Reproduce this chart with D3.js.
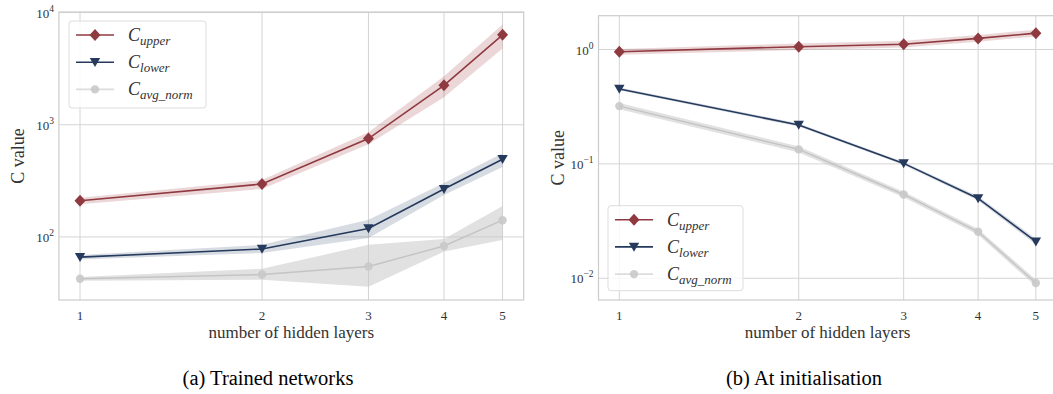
<!DOCTYPE html>
<html><head><meta charset="utf-8">
<script src="https://cdn.jsdelivr.net/npm/d3@7"></script>
<style>body{margin:0;background:#fff}svg{display:block}text{fill:#333}</style>
</head><body><svg id="c" width="1053" height="394"></svg>
<script>
// ---------- data ----------
const layers = [1, 2, 3, 4, 5];
const xTicks = [1, 2, 3, 4, 5];
const seriesNames = ["upper", "lower", "avg_norm"];

// (a) trained networks
const trainedUpper = [210, 296, 753, 2244, 6330];
const trainedUpperLo = [196, 268, 671, 1756, 4790];
const trainedUpperHi = [224, 321, 858, 2700, 7820];
const trainedLower = [66, 78, 119, 267, 493];
const trainedLowerLo = [63, 72, 98, 236, 420];
const trainedLowerHi = [69, 85, 142, 302, 558];
const trainedAvg = [42.4, 46.2, 54.5, 83, 141];
const trainedAvgLo = [40.6, 41.5, 36, 74, 94];
const trainedAvgHi = [44, 52, 85, 96, 189];
const trainedYTicks = [2, 3, 4];

// (b) at initialisation
const initUpper = [0.956, 1.058, 1.11, 1.25, 1.39];
const initUpperLo = [0.90, 0.99, 1.04, 1.17, 1.30];
const initUpperHi = [1.01, 1.13, 1.19, 1.34, 1.49];
const initLower = [0.451, 0.219, 0.101, 0.0499, 0.0209];
const initLowerLo = [0.44, 0.212, 0.098, 0.0478, 0.0197];
const initLowerHi = [0.465, 0.226, 0.104, 0.052, 0.0222];
const initAvg = [0.32, 0.134, 0.054, 0.0255, 0.0091];
const initAvgLo = [0.30, 0.126, 0.051, 0.024, 0.0085];
const initAvgHi = [0.34, 0.142, 0.057, 0.027, 0.0097];
const initYTicks = [-2, -1, 0];

const captions = ["(a) Trained networks", "(b) At initialisation"];
const xLabel = "number of hidden layers";
const yLabel = "C value";

// ---------- styles ----------
const FONT = '"Liberation Serif","Tinos","Times New Roman","Nimbus Roman","Nimbus Roman No9 L","FreeSerif","DejaVu Serif","Noto Serif",serif';
const colors = {upper: "#8f3a40", lower: "#253a5c", avg_norm: "#c4c4c4"};
const bandOpacity = {upper: 0.22, lower: 0.22, avg_norm: 0.55};
const bandColor = {upper: "#a8474e", lower: "#4a5f7f", avg_norm: "#c8c8c8"};
const gridColor = "#d4d4d4";

const svg = d3.select("#c").attr("font-family", FONT);

const panels = [
  {left: 58.9, right: 523.7, top: 12, bottom: 300, ydom: [27.4, Math.pow(10, 4.005)],
   yTicks: trainedYTicks, series: [
     {k: "upper", v: trainedUpper, lo: trainedUpperLo, hi: trainedUpperHi},
     {k: "lower", v: trainedLower, lo: trainedLowerLo, hi: trainedLowerHi},
     {k: "avg_norm", v: trainedAvg, lo: trainedAvgLo, hi: trainedAvgHi}],
   legend: {x: 69, y: 21, w: 137, h: 87}, caption: captions[0], capX: 268},
  {left: 598.5, right: 1056.7, top: 15.7, bottom: 300, ydom: [Math.pow(10, -2.19), Math.pow(10, 0.2955)],
   yTicks: initYTicks, series: [
     {k: "upper", v: initUpper, lo: initUpperLo, hi: initUpperHi},
     {k: "lower", v: initLower, lo: initLowerLo, hi: initLowerHi},
     {k: "avg_norm", v: initAvg, lo: initAvgLo, hi: initAvgHi}],
   legend: {x: 608, y: 205.7, w: 135, h: 85}, caption: captions[1], capX: 804}
];

const lo2 = Math.log2(5) * 0.05;
const xdom = [Math.pow(2, -lo2), 5 * Math.pow(2, lo2)];

function txt(sel) { return sel.append("text").attr("font-family", FONT); }

function marker(g, k, x, y) {
  const c = colors[k];
  if (k === "upper") {
    g.append("path").attr("d", `M${x},${y - 6}L${x + 5.5},${y}L${x},${y + 6}L${x - 5.5},${y}Z`).attr("fill", c);
  } else if (k === "lower") {
    g.append("path").attr("d", `M${x - 5.2},${y - 4.2}L${x + 5.2},${y - 4.2}L${x},${y + 4.8}Z`).attr("fill", c);
  } else {
    g.append("circle").attr("cx", x).attr("cy", y).attr("r", 4.2).attr("fill", "#c9c9c9").attr("opacity", 0.9);
  }
}

panels.forEach(p => {
  const x = d3.scaleLog().base(2).domain(xdom).range([p.left, p.right]);
  const y = d3.scaleLog().domain(p.ydom).range([p.bottom, p.top]);
  const g = svg.append("g");
  const clipId = "clip" + Math.round(p.left);
  svg.append("clipPath").attr("id", clipId).append("rect")
    .attr("x", p.left).attr("y", p.top).attr("width", p.right - p.left).attr("height", p.bottom - p.top);

  // grid
  const grid = g.append("g").attr("clip-path", `url(#${clipId})`);
  xTicks.forEach(t => grid.append("line").attr("x1", x(t)).attr("x2", x(t)).attr("y1", p.top).attr("y2", p.bottom)
    .attr("stroke", gridColor).attr("stroke-width", 1));
  p.yTicks.forEach(e => grid.append("line").attr("x1", p.left).attr("x2", p.right).attr("y1", y(Math.pow(10, e))).attr("y2", y(Math.pow(10, e)))
    .attr("stroke", gridColor).attr("stroke-width", 1));

  // frame
  g.append("rect").attr("x", p.left).attr("y", p.top).attr("width", p.right - p.left).attr("height", p.bottom - p.top)
    .attr("fill", "none").attr("stroke", "#cccccc").attr("stroke-width", 1.2);

  // x tick labels
  xTicks.forEach(t => txt(g).attr("x", x(t)).attr("y", p.bottom + 20).attr("text-anchor", "middle")
    .attr("font-size", 13).text(t));
  // y tick labels
  p.yTicks.forEach(e => {
    const t = txt(g).attr("x", p.left - 5).attr("y", y(Math.pow(10, e)) + 5).attr("text-anchor", "end").attr("font-size", 13);
    t.append("tspan").text("10");
    t.append("tspan").attr("dy", -6).attr("font-size", 9.5).text(e < 0 ? "\u2212" + (-e) : e);
  });

  // axis labels
  txt(g).attr("x", (p.left + p.right) / 2).attr("y", p.bottom + 38).attr("text-anchor", "middle")
    .attr("font-size", 17).text(xLabel);
  txt(g).attr("transform", `translate(${p.left - 35},${(p.top + p.bottom) / 2}) rotate(-90)`)
    .attr("text-anchor", "middle").attr("font-size", 18).text(yLabel);

  // series
  const data = g.append("g").attr("clip-path", `url(#${clipId})`);
  p.series.slice().reverse().forEach(s => {
    const pts = layers.map((l, i) => ({l, v: s.v[i], lo: s.lo[i], hi: s.hi[i]}));
    data.append("path").datum(pts)
      .attr("d", d3.area().x(d => x(d.l)).y0(d => y(d.lo)).y1(d => y(d.hi)))
      .attr("fill", bandColor[s.k]).attr("fill-opacity", bandOpacity[s.k]);
    data.append("path").datum(pts)
      .attr("d", d3.line().x(d => x(d.l)).y(d => y(d.v)))
      .attr("fill", "none").attr("stroke", colors[s.k]).attr("stroke-width", s.k === "avg_norm" ? 1.4 : 1.6);
    pts.forEach(d => marker(data, s.k, x(d.l), y(d.v)));
  });

  // legend
  const L = p.legend;
  g.append("rect").attr("x", L.x).attr("y", L.y).attr("width", L.w).attr("height", L.h).attr("rx", 3)
    .attr("fill", "#fff").attr("fill-opacity", 0.8).attr("stroke", "#dddddd").attr("stroke-width", 1);
  seriesNames.forEach((k, i) => {
    const cy = L.y + 14 + i * 27.2;
    g.append("line").attr("x1", L.x + 7).attr("x2", L.x + 45).attr("y1", cy).attr("y2", cy)
      .attr("stroke", k === "avg_norm" ? "#dcdcdc" : colors[k]).attr("stroke-width", 1.6);
    marker(g, k, L.x + 26, cy);
    const t = txt(g).attr("x", L.x + 59).attr("y", cy + 6).attr("font-size", 18).attr("font-style", "italic");
    t.append("tspan").text("C");
    t.append("tspan").attr("dy", 4).attr("font-size", 13).text(k);
  });

  // caption
  txt(svg).attr("x", p.capX).attr("y", 385).attr("text-anchor", "middle")
    .attr("font-size", 20.5).style("fill", "#000").text(p.caption);
});
</script></body></html>
